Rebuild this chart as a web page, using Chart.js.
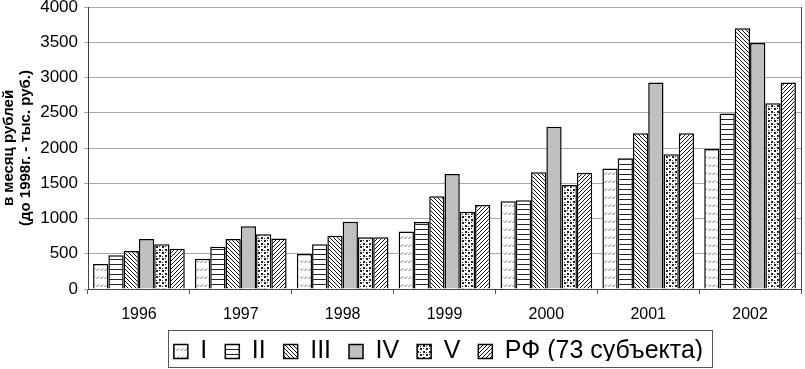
<!DOCTYPE html>
<html>
<head>
<meta charset="utf-8">
<script src="https://cdn.jsdelivr.net/npm/chart.js@4.4.0/dist/chart.umd.min.js"></script>
<style>
  html, body { margin: 0; padding: 0; background: #fff; }
  canvas { display: block; }
</style>
</head>
<body>
<canvas id="c" width="805" height="369"></canvas>
<script>
// данные
const years = ['1996', '1997', '1998', '1999', '2000', '2001', '2002'];
const seriesNames = ['I', 'II', 'III', 'IV', 'V', 'РФ (73 субъекта)'];
const grpI   = [355, 430, 495, 815, 1245, 1710, 1985];
const grpII  = [480, 600, 635, 950, 1260, 1855, 2490];
const grpIII = [540, 710, 755, 1315, 1655, 2210, 3700];
const grpIV  = [710, 890, 955, 1630, 2300, 2930, 3490];
const grpV   = [635, 775, 735, 1095, 1475, 1910, 2635];
const grpRF  = [570, 715, 735, 1190, 1650, 2210, 2930];
const yTicks = [0, 500, 1000, 1500, 2000, 2500, 3000, 3500, 4000];
const yTitle = ['в месяц рублей', '(до 1998г. - тыс. руб.)'];

// штриховки
function pat(size, draw) {
    const cv = document.createElement('canvas');
    cv.width = size; cv.height = size;
    const g = cv.getContext('2d');
    g.fillStyle = '#fff';
    g.fillRect(0, 0, size, size);
    draw(g, size);
    return g.createPattern(cv, 'repeat');
}
const ctx = document.getElementById('c').getContext('2d');
const fills = [
    pat(8, (g) => { // редкие короткие косые
        g.strokeStyle = '#666'; g.lineWidth = 1;
        g.beginPath();
        g.moveTo(0.5, 7); g.lineTo(3, 4.5);
        g.moveTo(4.5, 7); g.lineTo(7, 4.5);
        g.stroke();
    }),
    pat(5, (g, s) => { // горизонтальные
        g.fillStyle = '#222'; g.fillRect(0, 4, s, 1);
    }),
    pat(4, (g) => { // обратные косые
        g.strokeStyle = '#111'; g.lineWidth = 1;
        g.beginPath();
        g.moveTo(-1, -1); g.lineTo(5, 5);
        g.moveTo(-1, 3); g.lineTo(1, 5);
        g.moveTo(3, -1); g.lineTo(5, 1);
        g.stroke();
    }),
    '#c0c0c0',
    pat(6, (g) => { // точки
        g.fillStyle = '#fff'; g.fillRect(0, 0, 6, 6);
        g.fillStyle = '#222';
        g.fillRect(0, 0, 2, 2); g.fillRect(3, 3, 2, 2);
        g.fillRect(3, 0, 1, 1); g.fillRect(0, 4, 1, 1);
    }),
    pat(4, (g) => { // прямые косые
        g.strokeStyle = '#111'; g.lineWidth = 1;
        g.beginPath();
        g.moveTo(-1, 5); g.lineTo(5, -1);
        g.moveTo(-1, 1); g.lineTo(1, -1);
        g.moveTo(3, 5); g.lineTo(5, 3);
        g.stroke();
    })
];
const values = [grpI, grpII, grpIII, grpIV, grpV, grpRF];

// рамка легенды и правая граница области
const legendBox = {
    id: 'legendBox',
    afterLayout(chart) {
        const lg = chart.legend;
        lg.top = 321;
        lg.bottom = lg.top + lg.height;
        lg.left += 38;
        lg.right += 38;
    },
    afterDraw(chart) {
        const c = chart.ctx;
        c.save();
        c.strokeStyle = '#555'; c.lineWidth = 1;
        c.strokeRect(168.5, 330.5, 544, 37);
        const a = chart.chartArea;
        c.strokeStyle = '#444';
        c.beginPath();
        c.moveTo(a.right + 0.5, a.top); c.lineTo(a.right + 0.5, a.bottom);
        c.stroke();
        c.restore();
    }
};

new Chart(ctx, {
    type: 'bar',
    data: {
        labels: years,
        datasets: seriesNames.map((n, i) => ({
            label: n,
            data: values[i],
            backgroundColor: fills[i],
            borderColor: '#000',
            borderWidth: 1.5,
            categoryPercentage: 0.9,
            barPercentage: 1.0
        }))
    },
    options: {
        responsive: false,
        animation: false,
        layout: { padding: { top: 7, right: 4, left: 0, bottom: 0 } },
        plugins: {
            tooltip: { enabled: false },
            legend: {
                position: 'bottom',
                maxHeight: 40,
                labels: {
                    color: '#000',
                    font: { family: 'Liberation Sans, Arial', size: 25 },
                    boxWidth: 14, boxHeight: 14,
                    padding: 18,
                    useBorderRadius: false
                }
            }
        },
        scales: {
            x: {
                grid: { display: true, drawOnChartArea: false, offset: true, color: '#555', tickLength: 5 },
                border: { color: '#444', width: 1 },
                ticks: { color: '#000', font: { family: 'Liberation Sans, Arial', size: 16 }, padding: 11, maxRotation: 0 },
                afterFit: (s) => { s.height = 40; }
            },
            y: {
                min: 0, max: 4000,
                afterBuildTicks: (s) => { s.ticks = yTicks.map(v => ({ value: v })); },
                grid: { color: '#a8a8a8', tickLength: 4 },
                border: { color: '#444', width: 1 },
                ticks: {
                    color: '#000',
                    font: { family: 'Liberation Sans, Arial', size: 17 },
                    padding: 6,
                    callback: (v) => String(v)
                },
                title: {
                    display: true,
                    text: yTitle,
                    color: '#000',
                    font: { family: 'Liberation Sans, Arial', size: 15, weight: 'bold', lineHeight: 1.15 },
                    padding: { top: 0, bottom: 0 }
                },
                afterFit: (s) => { s.width = 88; s.paddingTop = 0; s.paddingBottom = 0; }
            }
        }
    },
    plugins: [legendBox]
});
</script>
</body>
</html>
